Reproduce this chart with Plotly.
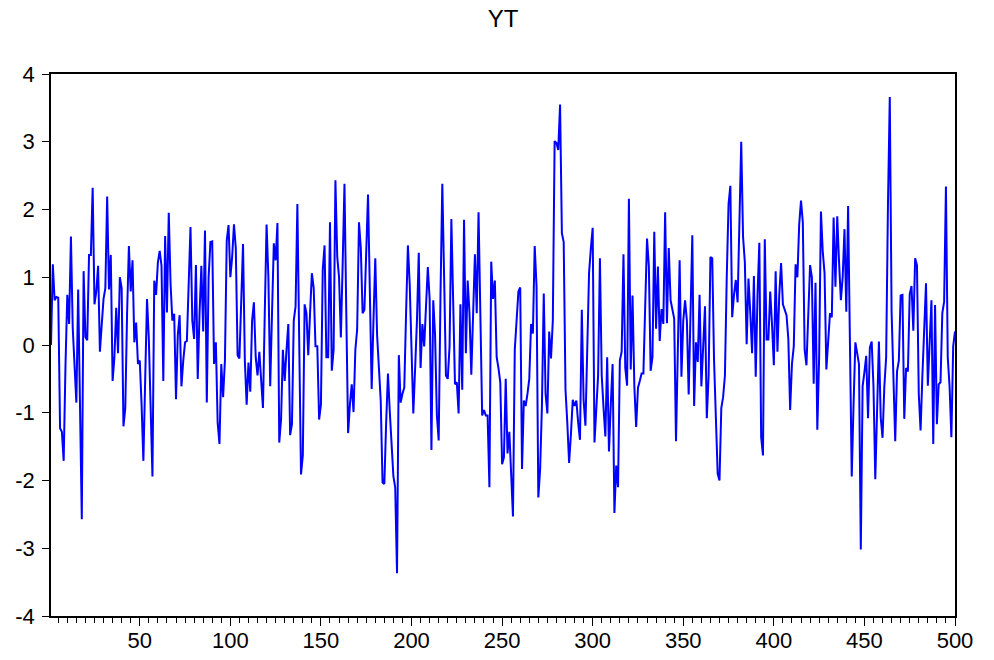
import plotly.graph_objects as go

yt_001_100 = [
    0.00, 1.19, 0.66, 0.71, 0.70, -1.23, -1.28, -1.71, -0.30, 0.74,
    0.31, 1.60, 0.25, -0.40, -0.85, 0.82, -0.60, -2.57, 1.09, 0.12,
    0.07, 1.33, 1.33, 2.32, 0.60, 0.79, 1.17, -0.10, 0.30, 0.68,
    0.84, 2.19, 0.82, 1.33, -0.53, -0.18, 0.55, -0.12, 1.00, 0.84,
    -1.20, -0.93, 0.47, 1.46, 0.79, 1.25, 0.04, 0.33, -0.28, -0.23,
    -0.88, -1.71, -0.50, 0.68, 0.09, -0.93, -1.94, 0.95, 0.74, 1.22,
    1.39, 1.17, -0.53, 1.61, 0.48, 1.95, 0.90, 0.36, 0.46, -0.80,
    0.15, 0.44, -0.61, -0.23, 0.04, 0.06, 0.90, 1.74, 0.36, 0.09,
    1.18, -0.50, 0.47, 1.17, 0.20, 1.69, -0.85, 1.00, 1.52, 1.53,
    -0.28, 0.04, -1.15, -1.46, -0.28, -0.77, -0.23, 1.54, 1.77, 1.00,
]
yt_101_200 = [
    1.30, 1.78, 1.43, -0.15, -0.20, 0.68, 1.49, -0.23, -0.88, -0.26,
    -0.69, 0.36, 0.63, -0.18, -0.45, -0.10, -0.45, -0.93, 0.47, 1.78,
    1.00, -0.61, 0.47, 1.50, 1.25, 1.80, -1.44, -1.09, -0.07, -0.53,
    -0.07, 0.31, -1.33, -1.17, 0.36, 0.57, 2.08, 0.15, -1.91, -1.63,
    0.60, 0.47, -0.15, 0.47, 1.06, 0.84, -0.02, -0.02, -1.10, -0.88,
    1.11, 1.47, -0.18, -0.18, 1.81, -0.38, -0.07, 2.43, 1.30, 1.00,
    0.11, 1.20, 2.38, 0.47, -1.30, -0.88, -0.58, -0.99, -0.07, 0.23,
    1.81, 1.44, 0.47, 0.52, 1.38, 2.22, 0.79, -0.65, 0.36, 1.28,
    0.15, -0.34, -0.82, -2.03, -2.05, -1.15, -0.42, -0.98, -1.57, -1.94,
    -2.10, -3.37, -0.15, -0.85, -0.72, -0.63, 0.47, 1.47, 0.90, -0.20,
]
yt_201_300 = [
    -1.01, -0.34, 0.36, 1.36, -0.34, 0.31, -0.02, 0.57, 1.15, 0.68,
    -1.55, 0.66, 0.15, -1.04, -1.41, 0.74, 2.38, 1.00, -0.45, -0.50,
    -0.02, 1.86, 0.47, -0.58, -0.55, -1.01, 0.60, -0.66, 1.85, -0.12,
    0.95, 0.47, -0.44, 0.47, 1.34, 0.47, 1.96, 0.47, -1.04, -0.96,
    -1.04, -1.04, -2.10, 1.23, 0.68, 0.95, -0.18, -0.34, -0.55, -1.76,
    -1.66, -0.50, -1.60, -1.28, -1.94, -2.53, -0.07, 0.47, 0.79, 0.85,
    -1.83, -0.82, -0.90, -0.72, -0.50, 0.31, 0.17, 1.46, 0.87, -2.25,
    -1.83, -0.88, 0.76, -0.72, -1.01, 0.20, -0.20, 0.36, 3.01, 2.98,
    2.88, 3.55, 1.65, 1.52, -0.66, -1.15, -1.74, -1.31, -0.81, -0.90,
    -0.82, -1.15, -1.40, 0.52, -0.82, -1.19, -0.07, 1.06, 1.43, 1.73,
]
yt_301_400 = [
    -1.44, -0.93, -0.45, 1.28, -0.45, -0.93, -1.35, -0.18, -1.57, -0.88,
    -0.28, -2.48, -1.78, -2.10, -0.23, -0.10, 1.34, -0.34, -0.60, 2.16,
    -0.36, 0.73, -0.61, -1.21, -0.63, -0.53, -0.42, -0.42, 0.57, 1.57,
    1.17, -0.38, -0.18, 1.67, 0.24, 1.16, 0.06, 0.53, 0.31, 1.96,
    0.32, 1.43, 0.66, 0.52, 0.39, -1.42, -0.07, 1.25, -0.47, 0.36,
    0.66, 0.36, -0.73, 0.47, 1.62, -0.90, 0.04, -0.25, 0.74, -0.61,
    0.04, 0.57, -1.08, -0.45, 1.30, 1.28, -0.23, -1.15, -1.90, -2.00,
    -0.93, -0.77, -0.45, 1.00, 2.08, 2.35, 0.41, 0.74, 0.96, 0.63,
    2.08, 3.00, 1.60, 1.22, 0.01, 0.98, 0.47, -0.12, 1.02, -0.47,
    0.74, 1.51, -1.36, -1.63, 1.56, 0.08, 0.08, 0.79, 0.30, -0.30,
]
yt_401_500 = [
    1.09, -0.10, 0.74, 1.21, 0.60, 0.52, 0.44, 0.09, -0.96, -0.28,
    -0.02, 1.19, 1.00, 1.78, 2.13, 1.81, -0.07, -0.30, 0.47, 1.18,
    1.00, -0.57, 0.92, -1.25, -0.18, 1.97, 1.38, 1.06, -0.36, 0.15,
    0.47, 0.41, 1.88, 0.86, 1.90, 1.22, 0.66, 1.00, 1.71, 0.49,
    2.05, 0.04, -1.94, -0.88, 0.04, -0.12, -0.28, -3.02, -0.61, -0.40,
    -0.16, -1.08, -0.04, 0.05, -0.61, -1.98, -0.88, 0.05, -1.07, -1.37,
    -0.61, -0.18, 2.08, 3.66, 0.49, -0.61, -1.42, -0.39, -0.23, 0.73,
    0.74, -1.09, -0.34, -0.39, 0.75, 0.87, 0.21, 1.28, 1.18, -0.72,
    -1.26, -0.45, 0.25, 0.91, -0.60, 0.04, 0.66, -1.46, 0.59, -1.17,
    -0.58, -0.55, 0.47, 0.64, 2.34, -0.18, -0.61, -1.36, -0.02, 0.20,
]

yt = yt_001_100 + yt_101_200 + yt_201_300 + yt_301_400 + yt_401_500
obs = list(range(1, len(yt) + 1))

x_tick_vals = [50, 100, 150, 200, 250, 300, 350, 400, 450, 500]
x_tick_text = ["50", "100", "150", "200", "250", "300", "350", "400", "450", "500"]
y_tick_vals = [-4, -3, -2, -1, 0, 1, 2, 3, 4]
y_tick_text = ["-4", "-3", "-2", "-1", "0", "1", "2", "3", "4"]

FONT = "Arial, Liberation Sans, Helvetica, sans-serif"

fig = go.Figure()
fig.add_trace(go.Scatter(
    x=obs, y=yt, mode="lines",
    line=dict(color="#0000FF", width=2),
    showlegend=False, hoverinfo="x+y",
))

fig.update_layout(
    width=994, height=660, autosize=False,
    paper_bgcolor="white", plot_bgcolor="white",
    margin=dict(l=51, r=39, t=74, b=44, pad=0, autoexpand=False),
    font=dict(family=FONT, size=22, color="black"),
    title=dict(text="YT", x=0.5, xref="paper", xanchor="center",
               y=1 - 19 / 660, yref="container", yanchor="middle",
               font=dict(family=FONT, size=24, color="black")),
    xaxis=dict(
        range=[1, 500], showgrid=False, zeroline=False, automargin=False,
        showline=True, linecolor="black", linewidth=1.5, mirror=True,
        tickmode="array", tickvals=x_tick_vals, ticktext=x_tick_text,
        ticks="outside", ticklen=8, tickwidth=1, tickcolor="black",
        ticklabelstandoff=-4,
        tickfont=dict(family=FONT, size=22, color="black"),
        minor=dict(dtick=5, tick0=0, ticks="outside", ticklen=5,
                   tickwidth=1, tickcolor="black", showgrid=False),
    ),
    yaxis=dict(
        range=[-4, 4], showgrid=False, zeroline=False, automargin=False,
        showline=True, linecolor="black", linewidth=1.5, mirror=True,
        tickmode="array", tickvals=y_tick_vals, ticktext=y_tick_text,
        ticks="outside", ticklen=7, tickwidth=1, tickcolor="black",
        ticklabelstandoff=3,
        tickfont=dict(family=FONT, size=22, color="black"),
    ),
)

fig.write_html(
    "out.html",
    config={"displayModeBar": False},
    post_script="document.body.style.margin='0';document.body.style.overflow='hidden';",
)
